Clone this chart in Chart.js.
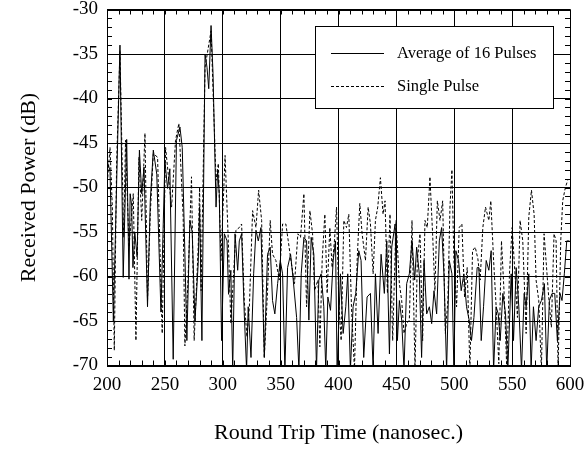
<!DOCTYPE html>
<html>
<head>
<meta charset="utf-8">
<script src="https://cdn.jsdelivr.net/npm/chart.js@4.4.1/dist/chart.umd.min.js"></script>
<style>
  html, body { margin: 0; padding: 0; background: #fff; }
  #wrap { width: 588px; height: 450px; }
</style>
</head>
<body>
<div id="wrap"><canvas id="power_chart" width="588" height="450"></canvas></div>
<script>
// Average of 16 pulses (solid)
var avgTime = [200, 202.6, 205.5, 207.5, 211.2, 214, 217, 219, 220, 221.3, 222.4, 224, 226, 228, 230, 232, 235, 237.4, 240, 243,
    246.6, 250, 252.3, 254.3, 257.2, 260, 263, 265, 267.3, 269, 271.6, 273.6, 276, 278.8, 280, 282, 284.7, 286.4, 287.9, 289.9,
    291.6, 294.2, 295.6, 297, 299, 301.4, 303.7, 305, 307, 308.6, 310.6, 312.9, 314.3, 316.3, 318.6, 320.6, 322, 324.4, 326.7, 328.7,
    330.7, 333, 335.9, 338.7, 341, 343, 345, 347.4, 349.7, 351.7, 353.7, 356, 358.6, 360.9, 363.8, 365.8, 367.8, 370.1, 372.4, 374.4,
    376.4, 378.7, 381, 383, 385, 387.3, 389, 390.8, 393.1, 395.4, 397.4, 398.8, 401.7, 404, 406.3, 408, 410.3, 412.6, 414.9, 417.5,
    419.5, 421.8, 424.7, 427.6, 429.9, 431.9, 434.2, 436.8, 439.6, 441.7, 444, 446, 448.9, 450.9, 452.6, 454.6, 456.6, 458.9, 461.2, 463.5,
    465.8, 467.5, 469.8, 471.8, 473.9, 476.2, 478.5, 480.5, 482.5, 484.8, 487.1, 489.1, 491.1, 493.4, 495.7, 498, 499.7, 501.4, 503.7, 506,
    508.3, 510.6, 512.9, 514.9, 517, 519.8, 521.3, 523.3, 525.3, 527.6, 529.9, 531.9, 534, 536.2, 538, 539.7, 542, 544.3, 546.3, 549.2,
    551.2, 553.5, 555.8, 558.1, 560.4, 562.1, 564.4, 566.4, 568.4, 570.7, 573, 575.3, 577.9, 579.9, 582.2, 584.5, 586.8, 589.1, 591.4, 593.1,
    595.1, 597.2, 599.5];
var avgPower = [-47.0, -48.1, -65.0, -54.0, -34.0, -60.1, -44.6, -60.3, -50.7, -52.0, -59.0, -55.0, -57.8, -45.8, -50.7, -47.7, -63.4, -51.5, -45.8, -48.5,
    -64.0, -47.0, -50.1, -47.9, -69.3, -44.7, -43.2, -45.5, -57.5, -67.2, -53.7, -55.0, -65.0, -58.5, -52.2, -67.2, -35.0, -36.5, -38.9, -31.8,
    -37.2, -52.2, -48.1, -50.7, -67.2, -55.2, -56.0, -62.0, -59.3, -70.5, -55.2, -59.3, -56.0, -55.2, -64.2, -70.5, -63.4, -69.1, -59.7, -54.8,
    -56.0, -54.5, -69.1, -57.5, -56.7, -62.7, -64.2, -60.8, -58.2, -59.7, -70.5, -59.0, -57.5, -60.4, -64.6, -70.5, -59.7, -55.6, -56.0, -64.9,
    -55.6, -57.5, -70.5, -60.4, -59.7, -63.4, -70.5, -62.3, -63.8, -58.2, -56.0, -70.5, -59.7, -66.4, -63.4, -59.7, -70.5, -63.4, -61.9, -57.1,
    -58.2, -69.1, -62.3, -61.9, -70.5, -59.7, -66.4, -57.5, -61.9, -56.0, -68.7, -56.7, -54.1, -67.2, -62.7, -64.9, -70.5, -60.8, -59.7, -56.0,
    -60.4, -56.7, -59.7, -69.1, -58.2, -64.2, -63.4, -65.3, -61.6, -64.2, -56.0, -54.5, -59.7, -70.5, -58.2, -59.7, -70.5, -57.1, -58.2, -61.6,
    -59.7, -63.4, -64.9, -67.2, -64.6, -59.0, -59.0, -67.2, -63.4, -58.2, -59.3, -57.1, -70.5, -63.4, -64.2, -67.2, -61.9, -64.2, -70.5, -59.7,
    -67.2, -59.0, -63.4, -70.5, -61.9, -63.4, -59.7, -70.5, -63.4, -67.2, -63.4, -62.7, -60.8, -70.5, -62.7, -61.9, -61.9, -67.2, -61.9, -62.7,
    -59.7, -56.0, -56.0];

// Single pulse (dashed)
var singleTime = [200, 202.6, 204.6, 206.3, 208.3, 211.2, 214.4, 216, 219, 222.7, 225, 227.6, 230, 232.8, 235, 237.4, 240, 243.7, 247.7, 250.6,
    252.9, 255.8, 259.2, 262.1, 265.8, 267.3, 270, 273, 275.3, 278.8, 280, 281.3, 284.7, 289.9, 294.2, 296.2, 298.5, 302, 304.8, 307,
    309.4, 311.4, 314.3, 316.3, 318.6, 320.9, 323, 325.8, 328.7, 331, 333.6, 335.9, 338.7, 341, 343, 345.9, 348.8, 351.7, 354.5, 356.6,
    358.9, 362, 364.9, 367.2, 370.1, 372.4, 375.3, 377.6, 379.3, 382.2, 383.9, 385.9, 388.2, 390.2, 392.5, 394.5, 396.5, 398.3, 400.3, 402.3,
    404.6, 406.9, 408.9, 411.2, 413.8, 416.1, 418.4, 420.4, 423.3, 425.6, 427.6, 429.9, 431.9, 433.9, 436.2, 438.5, 440.2, 442.3, 444.5, 446.8,
    449.7, 452.6, 454.6, 456.6, 458.9, 461.2, 463.5, 466.1, 468.1, 470.4, 472.7, 474.7, 476.7, 479, 481.3, 483.3, 485.4, 487.7, 490, 492.3,
    494.5, 496.3, 498, 499.7, 502, 504.3, 506.6, 508.9, 511.2, 513.5, 515.8, 518.1, 520.4, 522.4, 524.7, 527, 529.9, 531.6, 534, 536.2,
    538.5, 540.8, 543.1, 545.4, 547.7, 550, 552.3, 554.6, 556.9, 559.2, 562.1, 564.4, 566.7, 569, 570.7, 573, 575.3, 577.6, 579.3, 581.6,
    583.9, 586.2, 588, 589.7, 592, 593.7, 596, 598];
var singlePower = [-50.0, -45.5, -52.2, -68.3, -47.3, -34.6, -55.6, -44.7, -56.7, -50.7, -67.2, -46.6, -53.7, -43.9, -62.7, -53.0, -46.2, -46.6, -66.4, -45.5,
    -48.5, -52.2, -44.7, -42.8, -53.3, -67.8, -60.4, -48.8, -67.2, -56.7, -50.0, -61.6, -36.5, -32.4, -49.2, -47.3, -58.2, -46.4, -56.0, -65.3,
    -59.7, -54.8, -54.5, -54.1, -62.7, -66.8, -63.4, -52.6, -54.5, -50.3, -53.7, -69.1, -61.6, -53.7, -57.5, -58.2, -60.4, -54.1, -54.1, -56.0,
    -58.2, -60.8, -55.2, -55.6, -50.7, -63.4, -52.6, -55.2, -61.6, -60.4, -67.9, -58.2, -53.0, -61.9, -54.5, -59.0, -56.0, -52.2, -63.1, -67.2,
    -53.7, -54.5, -53.0, -63.4, -70.5, -58.2, -51.8, -55.2, -58.2, -52.2, -54.1, -59.7, -53.7, -52.2, -48.9, -53.0, -51.5, -61.9, -53.0, -67.2,
    -53.7, -60.8, -62.7, -66.4, -65.3, -64.9, -53.7, -70.5, -58.2, -55.2, -67.2, -53.7, -54.5, -48.8, -55.2, -61.6, -51.5, -53.7, -51.5, -66.4,
    -62.7, -52.2, -48.0, -58.2, -63.4, -54.5, -54.1, -62.3, -59.0, -70.5, -57.1, -56.7, -58.0, -60.4, -54.5, -52.2, -53.7, -51.5, -58.2, -63.4,
    -69.8, -56.0, -61.9, -70.5, -59.7, -54.5, -59.3, -64.6, -53.7, -56.0, -66.4, -53.3, -50.3, -53.0, -60.4, -62.7, -70.5, -55.2, -58.2, -62.3,
    -65.7, -55.2, -56.0, -70.5, -56.0, -51.5, -50.0, -49.2];

var xTicks = [200, 250, 300, 350, 400, 450, 500, 550, 600];
var yTicks = [-70, -65, -60, -55, -50, -45, -40, -35, -30];
var seriesNames = ['Average of 16 Pulses', 'Single Pulse'];

var serif = '"Liberation Serif", "Times New Roman", Times, serif';

function toPoints(xs, ys) {
    var res = [];
    for (var i = 0; i < xs.length; i++) {
        res.push({ x: xs[i], y: ys[i] });
    }
    return res;
}

// frame, minor ticks and the boxed legend
var framePlugin = {
    id: 'frame',
    afterDraw: function (chart) {
        var ctx = chart.ctx, a = chart.chartArea;
        var xs = chart.scales.x, ys = chart.scales.y;
        ctx.save();
        ctx.strokeStyle = '#000';
        ctx.lineWidth = 1;
        ctx.setLineDash([]);
        ctx.beginPath();
        for (var v = 200; v <= 600; v += 10) {
            var px = Math.round(xs.getPixelForValue(v)) + 0.5;
            ctx.moveTo(px, a.bottom); ctx.lineTo(px, a.bottom - 5);
            ctx.moveTo(px, a.top); ctx.lineTo(px, a.top + 5);
        }
        for (var w = -70; w <= -30; w += 1) {
            var py = Math.round(ys.getPixelForValue(w)) + 0.5;
            ctx.moveTo(a.left, py); ctx.lineTo(a.left + 5, py);
            ctx.moveTo(a.right, py); ctx.lineTo(a.right - 5, py);
        }
        ctx.stroke();
        ctx.strokeRect(Math.round(a.left) + 0.5, Math.round(a.top) + 0.5,
            Math.round(a.right - a.left), Math.round(a.bottom - a.top));

        // legend
        var bx = 315.5, by = 26.5, bw = 238, bh = 82;
        ctx.fillStyle = '#fff';
        ctx.fillRect(bx, by, bw, bh);
        ctx.strokeRect(bx, by, bw, bh);
        ctx.beginPath();
        ctx.moveTo(331, 53.5); ctx.lineTo(384, 53.5);
        ctx.stroke();
        ctx.setLineDash([3, 2]);
        ctx.beginPath();
        ctx.moveTo(331, 86.5); ctx.lineTo(384, 86.5);
        ctx.stroke();
        ctx.setLineDash([]);
        ctx.fillStyle = '#000';
        ctx.font = '16.5px ' + serif;
        ctx.textBaseline = 'middle';
        ctx.fillText(seriesNames[0], 397, 54);
        ctx.fillText(seriesNames[1], 397, 87);
        ctx.restore();
    }
};

new Chart(document.getElementById('power_chart').getContext('2d'), {
    type: 'line',
    data: {
        datasets: [{
            label: seriesNames[0],
            data: toPoints(avgTime, avgPower),
            borderColor: '#000',
            borderWidth: 1,
            pointRadius: 0,
            tension: 0
        }, {
            label: seriesNames[1],
            data: toPoints(singleTime, singlePower),
            borderColor: '#000',
            borderWidth: 1,
            borderDash: [3, 2],
            pointRadius: 0,
            tension: 0
        }]
    },
    options: {
        responsive: false,
        animation: false,
        events: [],
        layout: { padding: { left: 0, right: 18, top: 9.5, bottom: 0 } },
        plugins: {
            legend: { display: false },
            tooltip: { enabled: false }
        },
        scales: {
            x: {
                type: 'linear',
                min: 200,
                max: 600,
                afterBuildTicks: function (s) { s.ticks = xTicks.map(function (v) { return { value: v }; }); },
                afterFit: function (s) { s.height = 84.5; s.paddingLeft = 0; s.paddingRight = 0; },
                border: { display: false },
                grid: { color: '#000', lineWidth: 1, drawTicks: false },
                ticks: { color: '#000', font: { family: serif, size: 19 }, padding: 8, maxRotation: 0 },
                title: {
                    display: true,
                    text: 'Round Trip Time (nanosec.)',
                    color: '#000',
                    font: { family: serif, size: 22 },
                    padding: { top: 0, bottom: 4 }
                }
            },
            y: {
                min: -70,
                max: -30,
                afterBuildTicks: function (s) { s.ticks = yTicks.map(function (v) { return { value: v }; }); },
                afterFit: function (s) { s.width = 107; s.paddingTop = 0; s.paddingBottom = 0; },
                border: { display: false },
                grid: { color: '#000', lineWidth: 1, drawTicks: false },
                ticks: { color: '#000', font: { family: serif, size: 19 }, padding: 9 },
                title: {
                    display: true,
                    text: 'Received Power (dB)',
                    color: '#000',
                    font: { family: serif, size: 22 },
                    padding: { top: 16, bottom: 0 }
                }
            }
        }
    },
    plugins: [framePlugin]
});
</script>
</body>
</html>
